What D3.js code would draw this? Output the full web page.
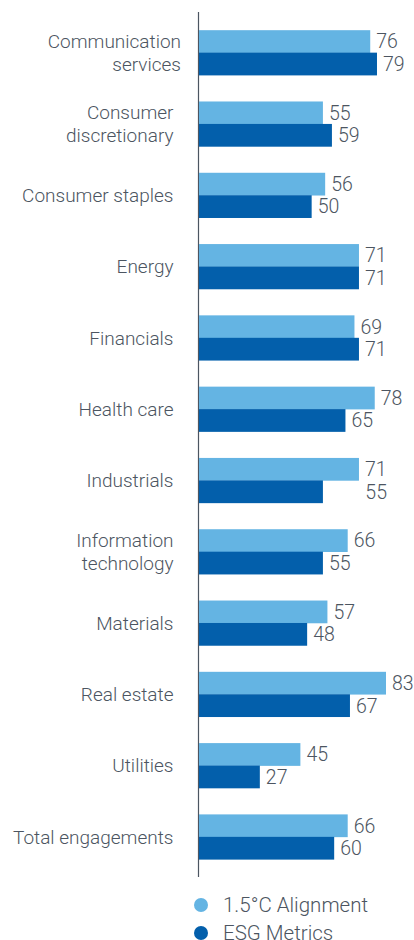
<!DOCTYPE html>
<html>

<head>
    <meta charset="UTF-8">
    <style>
        body { margin: 0; background: #fff; }
        svg { display: block; font-family: Roboto, "Liberation Sans", sans-serif; font-weight: 300; }
    </style>
</head>

<body>
    <svg></svg>
    <script src="https://d3js.org/d3.v7.min.js"></script>

    <script>

        let width = 414, height = 940;

        // data
        const categories = ["Communication\nservices", "Consumer\ndiscretionary", "Consumer staples", "Energy",
            "Financials", "Health care", "Industrials", "Information\ntechnology", "Materials",
            "Real estate", "Utilities", "Total engagements"];
        const alignment = [76, 55, 56, 71, 69, 78, 71, 66, 57, 83, 45, 66];
        const esgMetrics = [79, 59, 50, 71, 71, 65, 55, 55, 48, 67, 27, 60];
        const seriesNames = ["1.5°C Alignment", "ESG Metrics"];
        const seriesColors = ["#64b4e3", "#035fab"];

        const textColor = "#4c5561";

        let svg = d3.select("svg")
            .attr("width", width)
            .attr("height", height)
            .attr("viewBox", "0 0 " + width + " " + height);

        let rows = categories.map((c, i) => ({ cat: c, values: [alignment[i], esgMetrics[i]] }));

        const x = d3.scaleLinear()
            .domain([0, 83])
            .range([199, 386]);

        const y = d3.scaleBand()
            .domain(categories)
            .range([17, 872.5])
            .paddingInner(0.37)
            .paddingOuter(0.185);

        const ySub = d3.scaleBand()
            .domain([0, 1])
            .range([0, y.bandwidth()]);

        // vertical axis line
        svg.append("line")
            .attr("x1", x(0) - 0.5).attr("x2", x(0) - 0.5)
            .attr("y1", 12).attr("y2", 877)
            .attr("stroke", "#4c5561")
            .attr("stroke-width", 1.2);

        let groups = svg.append("g")
            .selectAll("g")
            .data(rows)
            .enter()
            .append("g")
            .attr("transform", d => "translate(0," + y(d.cat) + ")");

        groups.selectAll("rect")
            .data(d => d.values.map((v, k) => ({ v: v, k: k })))
            .enter()
            .append("rect")
            .attr("x", x(0))
            .attr("y", d => ySub(d.k))
            .attr("width", d => x(d.v) - x(0))
            .attr("height", ySub.bandwidth() + 0.3)
            .attr("fill", d => seriesColors[d.k]);

        // value labels; Industrials' second label sits under the first one in the original
        groups.selectAll("text.val")
            .data(d => d.values.map((v, k) => ({ v: v, k: k, row: d })))
            .enter()
            .append("text")
            .attr("class", "val")
            .attr("x", d => {
                if (d.row.cat === "Industrials" && d.k === 1) return x(d.row.values[0]) + 6 + 22;
                return x(d.v) + 6;
            })
            .attr("text-anchor", d => (d.row.cat === "Industrials" && d.k === 1) ? "end" : "start")
            .attr("y", d => ySub(d.k) + ySub.bandwidth() / 2)
            .attr("dy", "0.36em")
            .attr("fill", textColor)
            .style("font-size", "19.5px")
            .text(d => d.v);

        // category labels
        groups.append("text")
            .attr("class", "cat")
            .attr("x", d => d.cat.startsWith("Communication") ? 181 : 173.5)
            .attr("y", y.bandwidth() / 2)
            .attr("text-anchor", "end")
            .attr("fill", textColor)
            .style("font-size", "19px")
            .each(function (d) {
                let lines = d.cat.split("\n");
                let t = d3.select(this);
                lines.forEach((l, i) => {
                    t.append("tspan")
                        .attr("x", t.attr("x"))
                        .attr("dy", i === 0 ? (0.36 - (lines.length - 1) * 0.6) + "em" : "1.2em")
                        .text(l);
                });
            });

        // legend
        let legend = svg.append("g")
            .selectAll("g")
            .data(seriesNames)
            .enter()
            .append("g")
            .attr("transform", (d, i) => "translate(201," + (905 + i * 28) + ")");

        legend.append("circle")
            .attr("r", 7)
            .attr("fill", (d, i) => seriesColors[i]);

        legend.append("text")
            .attr("x", 22)
            .attr("dy", "0.36em")
            .attr("fill", textColor)
            .style("font-size", "20.5px")
            .text(d => d);

    </script>

</body>

</html>
